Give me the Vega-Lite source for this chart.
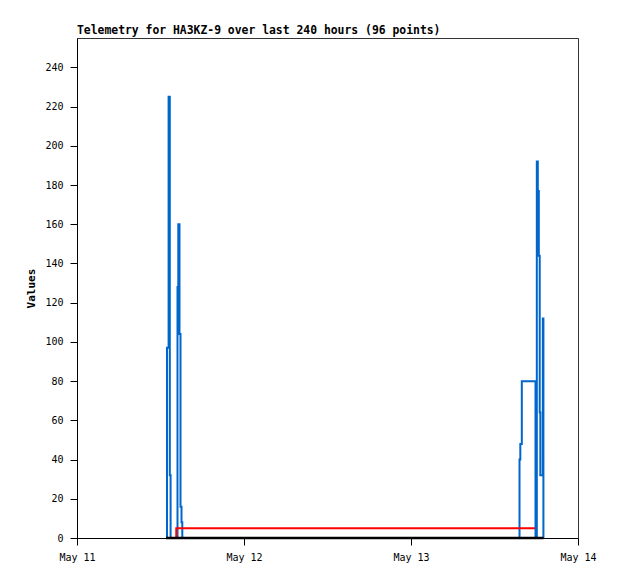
{
  "$schema": "https://vega.github.io/schema/vega-lite/v6.json",
  "autosize": "none",
  "width": 501,
  "height": 500,
  "padding": {"left": 77, "top": 38, "right": 40, "bottom": 41},
  "background": "white",
  "title": {
    "text": "Telemetry for HA3KZ-9 over last 240 hours (96 points)",
    "anchor": "start",
    "frame": "group",
    "font": "DejaVu Sans Mono",
    "fontSize": 11.4,
    "fontWeight": "bold",
    "color": "black",
    "offset": 2
  },
  "config": {
    "view": {"stroke": "#333", "strokeWidth": 1},
    "axis": {
      "labelFont": "DejaVu Sans Mono",
      "labelFontSize": 10,
      "labelColor": "black",
      "titleFont": "DejaVu Sans Mono",
      "titleFontSize": 11,
      "titleFontWeight": "bold",
      "titleColor": "black",
      "domainColor": "black",
      "tickColor": "black",
      "tickSize": 7,
      "grid": false
    }
  },
  "data": {
    "values": [
      {"s": "a", "t": "2024-05-11T12:47:24", "v": 0},
      {"s": "a", "t": "2024-05-11T12:56:03", "v": 97},
      {"s": "a", "t": "2024-05-11T13:09:51", "v": 225},
      {"s": "a", "t": "2024-05-11T13:20:12", "v": 32},
      {"s": "a", "t": "2024-05-11T13:27:06", "v": 0},
      {"s": "a", "t": "2024-05-11T14:26:36", "v": 128},
      {"s": "a", "t": "2024-05-11T14:33:30", "v": 160},
      {"s": "a", "t": "2024-05-11T14:43:48", "v": 104},
      {"s": "a", "t": "2024-05-11T14:52:30", "v": 16},
      {"s": "a", "t": "2024-05-11T15:01:06", "v": 8},
      {"s": "a", "t": "2024-05-11T15:08:00", "v": 0},
      {"s": "a", "t": "2024-05-13T15:35:42", "v": 40},
      {"s": "a", "t": "2024-05-13T15:42:36", "v": 48},
      {"s": "a", "t": "2024-05-13T15:55:30", "v": 80},
      {"s": "a", "t": "2024-05-13T17:53:36", "v": 0},
      {"s": "a", "t": "2024-05-13T18:04:54", "v": 192},
      {"s": "a", "t": "2024-05-13T18:13:30", "v": 177},
      {"s": "a", "t": "2024-05-13T18:22:06", "v": 144},
      {"s": "a", "t": "2024-05-13T18:29:54", "v": 64},
      {"s": "a", "t": "2024-05-13T18:35:06", "v": 32},
      {"s": "a", "t": "2024-05-13T18:56:36", "v": 112},
      {"s": "a", "t": "2024-05-13T19:01:48", "v": 0},
      {"s": "b", "t": "2024-05-11T14:09:00", "v": 0},
      {"s": "b", "t": "2024-05-11T14:16:00", "v": 5},
      {"s": "b", "t": "2024-05-13T17:49:00", "v": 5},
      {"s": "c", "t": "2024-05-11T12:47:24", "v": 0},
      {"s": "c", "t": "2024-05-13T19:01:48", "v": 0}
    ]
  },
  "encoding": {
    "x": {
      "field": "t",
      "type": "temporal",
      "title": null,
      "scale": {
        "domain": [
          {"year": 2024, "month": 5, "date": 11},
          {"year": 2024, "month": 5, "date": 14}
        ]
      },
      "axis": {
        "format": "%b %d",
        "tickCount": {"interval": "day", "step": 1},
        "labelPadding": 7,
        "labelAlign": "center",
        "labelFlush": false,
        "labelFontSize": 10
      }
    },
    "y": {
      "field": "v",
      "type": "quantitative",
      "title": "Values",
      "scale": {"domain": [0, 255], "nice": false, "zero": true},
      "axis": {
        "values": [0, 20, 40, 60, 80, 100, 120, 140, 160, 180, 200, 220, 240],
        "labelPadding": 7,
        "titlePadding": 8
      }
    }
  },
  "layer": [
    {
      "transform": [{"filter": "datum.s == 'a'"}],
      "mark": {"type": "line", "color": "#0066cc", "strokeWidth": 2, "interpolate": "step-after"}
    },
    {
      "transform": [{"filter": "datum.s == 'b'"}],
      "mark": {"type": "line", "color": "#ff0000", "strokeWidth": 2, "interpolate": "step-after"}
    },
    {
      "transform": [{"filter": "datum.s == 'c'"}],
      "mark": {"type": "line", "color": "#000000", "strokeWidth": 2.5}
    }
  ]
}
